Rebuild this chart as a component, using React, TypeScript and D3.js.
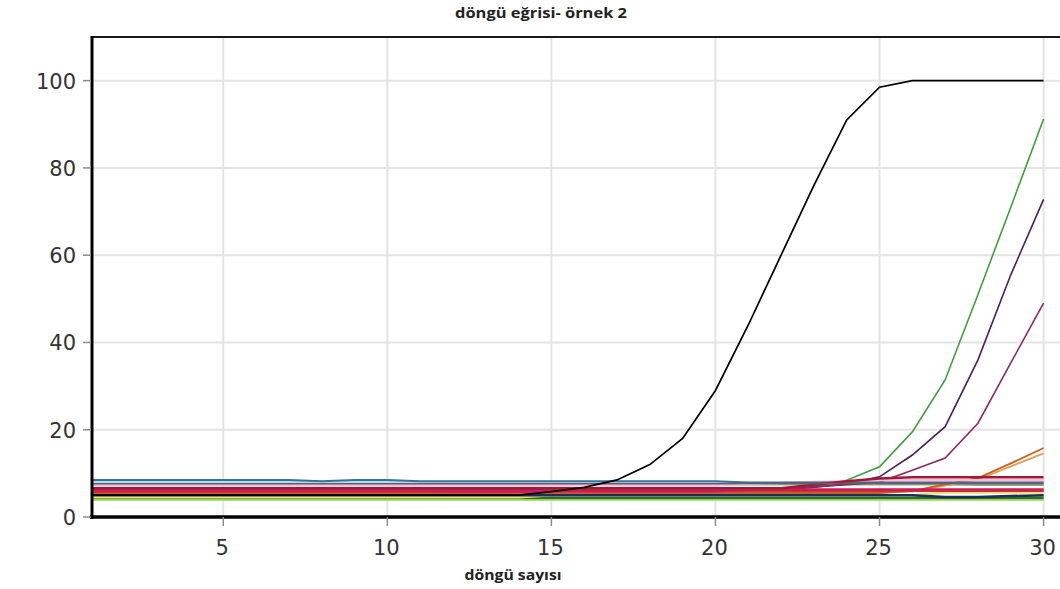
import React from "react";
import * as d3 from "d3";

// amplification curves, one value per cycle (1..30)
const cycles = [1, 2, 3, 4, 5, 6, 7, 8, 9, 10, 11, 12, 13, 14, 15, 16, 17, 18, 19, 20, 21, 22, 23, 24, 25, 26, 27, 28, 29, 30];
const xTicks = [5, 10, 15, 20, 25, 30];
const yTicks = [0, 20, 40, 60, 80, 100];

const oliveGrey = [7.5, 7.5, 7.5, 7.5, 7.5, 7.5, 7.5, 7.5, 7.5, 7.5, 7.5, 7.5, 7.5, 7.5, 7.5, 7.5, 7.5, 7.5, 7.5, 7.5, 7.5, 7.5, 7.5, 7.5, 7.5, 7.5, 7.5, 7.4, 7.4, 7.4];
const lime = [4.0, 4.0, 4.0, 4.0, 4.0, 4.0, 4.0, 4.0, 4.0, 4.0, 4.0, 4.0, 4.0, 4.0, 4.0, 4.0, 4.0, 4.0, 4.0, 4.0, 4.0, 4.0, 4.0, 4.0, 4.0, 4.0, 4.0, 4.0, 4.0, 4.0];
const darkGreen = [4.4, 4.4, 4.4, 4.4, 4.4, 4.4, 4.4, 4.4, 4.4, 4.4, 4.4, 4.4, 4.4, 4.4, 4.4, 4.4, 4.4, 4.4, 4.4, 4.4, 4.4, 4.4, 4.4, 4.4, 4.4, 4.4, 4.4, 4.4, 4.4, 4.4];
const yellow = [4.5, 4.5, 4.5, 4.5, 4.5, 4.5, 4.5, 4.5, 4.5, 4.5, 4.5, 4.5, 4.5, 4.5, 5.0, 5.0, 5.0, 5.0, 5.0, 5.0, 5.0, 5.0, 5.0, 5.0, 5.0, 5.0, 5.6, 5.6, 5.6, 5.6];
const navy = [5.0, 5.0, 5.0, 5.0, 5.0, 5.0, 5.0, 5.0, 5.0, 5.0, 5.0, 5.0, 5.0, 5.0, 5.0, 5.0, 5.0, 5.0, 5.0, 5.0, 5.0, 5.0, 5.0, 5.0, 5.0, 5.0, 4.6, 4.6, 4.8, 5.0];
const green = [6.0, 6.0, 6.0, 6.0, 6.0, 6.0, 6.0, 6.0, 6.0, 6.0, 6.0, 6.0, 6.0, 6.0, 6.0, 6.0, 6.0, 6.0, 6.0, 6.0, 6.0, 6.2, 7.0, 8.4, 11.5, 19.5, 31.4, 51, 71, 91.2];
const purple = [6.2, 6.2, 6.2, 6.2, 6.2, 6.2, 6.2, 6.2, 6.2, 6.2, 6.2, 6.2, 6.2, 6.2, 6.2, 6.2, 6.2, 6.2, 6.2, 6.2, 6.2, 6.2, 6.8, 7.6, 9.2, 14.2, 20.7, 36, 55.5, 72.8];
const plum = [6.4, 6.4, 6.4, 6.4, 6.4, 6.4, 6.4, 6.4, 6.4, 6.4, 6.4, 6.4, 6.4, 6.4, 6.4, 6.4, 6.4, 6.4, 6.4, 6.4, 6.4, 6.4, 6.9, 7.4, 8.0, 10.7, 13.5, 21.5, 35.3, 49];
const tan = [5.6, 5.6, 5.6, 5.6, 5.6, 5.6, 5.6, 5.6, 5.6, 5.6, 5.6, 5.6, 5.6, 5.6, 5.6, 5.6, 5.6, 5.6, 5.6, 5.6, 5.6, 5.6, 5.6, 5.6, 5.6, 5.8, 7.2, 8.6, 11.6, 14.6];
const orange = [5.4, 5.5, 5.5, 5.5, 5.5, 5.5, 5.5, 5.5, 5.5, 5.5, 5.5, 5.5, 5.5, 5.5, 5.5, 5.5, 5.5, 5.5, 5.5, 5.5, 5.5, 5.5, 5.5, 5.5, 5.5, 6.0, 7.5, 8.9, 12.3, 15.8];
const pink = [7.3, 7.3, 7.3, 7.3, 7.3, 7.3, 7.3, 7.3, 7.3, 7.3, 7.3, 7.3, 7.3, 7.3, 7.3, 7.3, 7.3, 7.3, 7.3, 7.3, 7.6, 7.8, 8.0, 8.2, 8.4, 8.4, 8.4, 8.4, 8.4, 8.4];
const lightCyan = [8.0, 8.0, 8.0, 8.0, 8.0, 8.0, 8.0, 8.0, 8.0, 8.0, 8.0, 8.0, 8.0, 8.0, 8.0, 8.0, 8.0, 8.0, 8.0, 8.0, 7.8, 7.8, 7.8, 7.8, 7.8, 7.8, 7.8, 7.8, 7.8, 7.8];
const steelBlue = [8.5, 8.5, 8.5, 8.5, 8.5, 8.5, 8.5, 8.2, 8.5, 8.5, 8.2, 8.2, 8.2, 8.2, 8.2, 8.2, 8.2, 8.2, 8.2, 8.2, 7.9, 7.9, 7.9, 7.9, 7.9, 7.9, 7.9, 7.9, 7.9, 7.9];
const redBrown = [5.8, 5.8, 5.8, 5.8, 5.8, 5.8, 5.8, 5.8, 5.8, 5.8, 5.8, 5.8, 5.8, 5.8, 6.0, 6.0, 6.0, 6.0, 6.0, 6.0, 6.0, 6.0, 6.0, 6.0, 6.0, 6.0, 6.0, 6.0, 6.0, 6.0];
const crimson = [6.1, 6.1, 6.1, 6.1, 6.1, 6.1, 6.1, 6.1, 6.1, 6.1, 6.1, 5.9, 5.9, 5.9, 5.9, 5.9, 5.9, 5.9, 5.9, 5.9, 6.3, 6.3, 6.3, 6.3, 6.3, 6.3, 6.3, 6.3, 6.3, 6.3];
const darkRed = [6.6, 6.6, 6.6, 6.6, 6.6, 6.6, 6.6, 6.6, 6.6, 6.6, 6.6, 6.6, 6.6, 6.6, 6.6, 6.6, 6.6, 6.6, 6.6, 6.6, 6.6, 6.6, 7.4, 8.2, 8.8, 9.1, 9.1, 9.1, 9.1, 9.1];
const greyPurple = [7.6, 7.6, 7.6, 7.6, 7.6, 7.6, 7.6, 7.6, 7.6, 7.6, 7.6, 7.6, 7.6, 7.6, 7.6, 7.6, 7.6, 7.6, 7.6, 7.6, 7.7, 7.7, 7.7, 7.7, 7.7, 7.7, 7.7, 7.7, 7.7, 7.7];
const black = [5.0, 5.0, 5.0, 5.0, 5.0, 5.0, 5.0, 5.0, 5.0, 5.0, 5.0, 5.0, 5.0, 5.0, 5.8, 6.8, 8.5, 12, 18, 29, 44, 60, 76, 91, 98.5, 100, 100, 100, 100, 100];

// drawing order: first is at the bottom
const series = [
  { values: oliveGrey, color: "#8fa87a", w: 2.5 },
  { values: lime, color: "#8ed84c", w: 2.5 },
  { values: darkGreen, color: "#2f6b2f", w: 2.5 },
  { values: yellow, color: "#f1df74", w: 2.5 },
  { values: navy, color: "#1f2d5c", w: 2.5 },
  { values: green, color: "#3f9f3f", w: 1.6 },
  { values: purple, color: "#4a1f60", w: 1.6 },
  { values: plum, color: "#8c2a62", w: 1.6 },
  { values: tan, color: "#e2a04c", w: 1.8 },
  { values: orange, color: "#c9601f", w: 1.8 },
  { values: pink, color: "#ffb7da", w: 2.5 },
  { values: lightCyan, color: "#a3e4ee", w: 2 },
  { values: steelBlue, color: "#3b7196", w: 2 },
  { values: redBrown, color: "#c2372a", w: 2.5 },
  { values: crimson, color: "#d1185e", w: 2.5 },
  { values: darkRed, color: "#9e1b32", w: 2.5 },
  { values: greyPurple, color: "#6a5a6e", w: 1.5 },
  { values: black, color: "#000000", w: 1.7 },
];

const W = 1060;
const H = 589;
const left = 92;
const top = 37;
const bottom = 517;

const App = () => {
  const x = d3.scaleLinear().domain([1, 30.5]).range([left, W]);
  const y = d3.scaleLinear().domain([0, 110]).range([bottom, top]);

  const line = d3.line<number>()
    .x((d, i) => x(cycles[i]))
    .y(d => y(d));

  const tickFont = "'DejaVu Sans', Verdana, sans-serif";
  const labelFont = "'Open Sans', 'Noto Sans', sans-serif";

  return (
    <div style={{ position: "absolute", left: 0, top: 0 }}>
      <svg width={W} height={H} style={{ display: "block", background: "#fff" }}>
        <text x={541} y={18} textAnchor="middle" fontFamily={labelFont} fontWeight="bold" fontSize={15}
          textLength={172} lengthAdjust="spacingAndGlyphs" fill="#222">
          döngü eğrisi- örnek 2
        </text>

        {/* grid */}
        {yTicks.filter(t => t > 0).map(t => (
          <line key={"gy" + t} x1={left} x2={W} y1={y(t)} y2={y(t)} stroke="#e4e4e4" strokeWidth={2} />
        ))}
        {xTicks.map(t => (
          <line key={"gx" + t} x1={x(t)} x2={x(t)} y1={top} y2={bottom} stroke="#e4e4e4" strokeWidth={2} />
        ))}

        {/* curves */}
        {series.map((s, i) => (
          <path key={i} d={line(s.values) || ""} fill="none" stroke={s.color} strokeWidth={s.w} />
        ))}

        {/* frame */}
        <line x1={left} x2={W} y1={top} y2={top} stroke="#1a1a1a" strokeWidth={2} />
        <line x1={left} x2={left} y1={top - 1} y2={bottom + 2} stroke="#000" strokeWidth={3} />
        <line x1={left - 2} x2={W} y1={bottom} y2={bottom} stroke="#000" strokeWidth={3.5} />

        {/* y axis */}
        {yTicks.map(t => (
          <g key={"ty" + t}>
            <line x1={83} x2={left - 1} y1={y(t)} y2={y(t)} stroke="#8a8a8a" strokeWidth={1.5} />
            <text x={76} y={y(t) + 8} textAnchor="end" fontFamily={tickFont} fontSize={21} fill="#333">
              {t}
            </text>
          </g>
        ))}

        {/* x axis */}
        {xTicks.map(t => (
          <g key={"tx" + t}>
            <line x1={x(t)} x2={x(t)} y1={bottom} y2={bottom + 9} stroke="#8a8a8a" strokeWidth={1.5} />
            <text x={x(t) - 1} y={555} textAnchor="middle" fontFamily={tickFont} fontSize={21} fill="#333">
              {t}
            </text>
          </g>
        ))}

        <text x={513} y={580} textAnchor="middle" fontFamily={labelFont} fontWeight="bold" fontSize={15}
          textLength={97} lengthAdjust="spacingAndGlyphs" fill="#222">
          döngü sayısı
        </text>
      </svg>
    </div>
  );
};

export default App;
